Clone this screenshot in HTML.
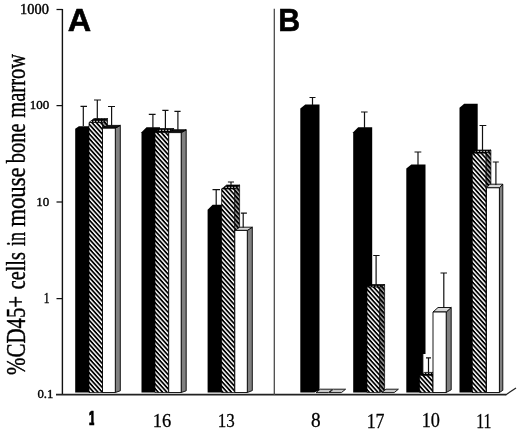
<!DOCTYPE html>
<html><head><meta charset="utf-8"><title>Figure</title>
<style>
html,body{margin:0;padding:0;background:#fff;}
body{width:520px;height:433px;overflow:hidden;}
svg{display:block;}
text{fill:#000;stroke:#000;stroke-width:0.4px;stroke-linejoin:round;}
.b{stroke-width:0.6px;}
.yl{stroke-width:0.45px;}
.xl{stroke-width:0.28px;}
.s{font-family:"Liberation Serif","DejaVu Serif",serif;}
.b{font-family:"Liberation Sans","DejaVu Sans",sans-serif;font-weight:bold;}
</style></head><body>
<svg width="520" height="433" viewBox="0 0 520 433">
<defs>
<pattern id="h" patternUnits="userSpaceOnUse" width="3.2" height="3.2" patternTransform="rotate(48)">
<rect width="3.2" height="3.2" fill="#fff"/><rect width="3.2" height="1.75" y="0" fill="#000"/></pattern>
<pattern id="hs" patternUnits="userSpaceOnUse" width="3.2" height="3.2" patternTransform="rotate(48)">
<rect width="3.2" height="3.2" fill="#aaa"/><rect width="3.2" height="1.9" y="0" fill="#000"/></pattern>
<pattern id="ht" patternUnits="userSpaceOnUse" width="3" height="3">
<rect width="3" height="3" fill="#000"/><rect width="1.2" height="1.2" x="0.5" y="0.8" fill="#fff"/></pattern>
<clipPath id="c1"><rect x="89.3" y="405" width="4.9" height="25"/></clipPath>
</defs>
<rect width="520" height="433" fill="#fff"/>

<path d="M62.4 9V395" stroke="#111" stroke-width="1.4" fill="none"/>
<path d="M56.5 9.5H62.5" stroke="#111" stroke-width="1.25" fill="none"/>
<path d="M56.5 105.6H62.5" stroke="#111" stroke-width="1.25" fill="none"/>
<path d="M56.5 202.0H62.5" stroke="#111" stroke-width="1.25" fill="none"/>
<path d="M56.5 298.6H62.5" stroke="#111" stroke-width="1.25" fill="none"/>
<path d="M56 394.6H506.2" stroke="#222" stroke-width="1.7" fill="none"/>
<path d="M505.6 394.9L516 388" stroke="#222" stroke-width="1.2" fill="none"/>
<path d="M274.3 8.8V395" stroke="#444" stroke-width="1.25" fill="none"/>
<text class="s" transform="translate(20.11,13.73) scale(1.0613,1)" font-size="13.53">1000</text>
<text class="s" transform="translate(29.73,109.14) scale(0.9817,1)" font-size="13.24">100</text>
<text class="s" transform="translate(36.23,206.14) scale(0.9814,1)" font-size="13.24">10</text>
<text class="s" transform="translate(43.67,302.60) scale(0.8381,1)" font-size="13.64">1</text>
<text class="s" transform="translate(37.39,398.34) scale(0.9658,1)" font-size="13.24">0.1</text>
<g clip-path="url(#c1)"><text class="b" transform="translate(87.9,425.2) scale(0.7,1)" font-size="20.6">1</text></g>
<text class="s xl" transform="translate(152.83,427.01) scale(0.9542,1)" font-size="19.41">16</text>
<text class="s xl" transform="translate(217.87,427.20) scale(0.8635,1)" font-size="19.70">13</text>
<text class="s xl" transform="translate(310.93,427.10) scale(0.9571,1)" font-size="20.15">8</text>
<text class="s xl" transform="translate(366.69,427.60) scale(0.8787,1)" font-size="20.30">17</text>
<text class="s xl" transform="translate(421.66,427.20) scale(0.9138,1)" font-size="20.00">10</text>
<text class="s xl" transform="translate(476.28,427.60) scale(0.7669,1)" font-size="20.61">11</text>
<text class="b" transform="translate(67.73,30.82) scale(1.0114,1)" font-size="32.06">A</text>
<text class="b" transform="translate(278.28,31.10) scale(0.9512,1)" font-size="31.88">B</text>
<g class="s yl" transform="translate(24.9,0) rotate(-90)" font-size="27.0">
<text transform="translate(-374.93,0) scale(0.7737,1)">%CD45+</text>
<text transform="translate(-289.31,0) scale(0.7513,1)">cells</text>
<text transform="translate(-246.06,0) scale(0.6607,1)">in</text>
<text transform="translate(-226.76,0) scale(0.8435,1)">mouse</text>
<text transform="translate(-163.20,0) scale(0.7563,1)">bone</text>
<text transform="translate(-117.71,0) scale(0.7599,1)">marrow</text>
</g>
<polygon points="75.20,392.50 75.20,128.80 78.90,126.20 92.70,126.20 92.70,390.94 89.00,392.50" fill="#000"/>
<path d="M83.30 106.40V126.00M80.50 106.40H87.00" stroke="#111" stroke-width="1.2" fill="none"/>
<polygon points="102.50,122.50 107.50,118.50 107.50,390.10 102.50,392.50" fill="url(#hs)" stroke="#000" stroke-width="0.7" stroke-linejoin="miter"/>
<polygon points="89.00,122.50 94.00,118.50 107.50,118.50 102.50,122.50" fill="url(#ht)" stroke="#000" stroke-width="0.7" stroke-linejoin="miter"/>
<polygon points="89.00,122.50 102.50,122.50 102.50,392.50 89.00,392.50" fill="url(#h)" stroke="#000" stroke-width="0.7" stroke-linejoin="miter"/>
<path d="M97.30 100.00V119.00M94.00 100.00H101.00" stroke="#111" stroke-width="1.2" fill="none"/>
<polygon points="115.30,128.20 120.30,125.40 120.30,390.82 115.30,392.50" fill="#808080" stroke="#000" stroke-width="0.9" stroke-linejoin="miter"/>
<polygon points="102.50,128.20 107.50,125.40 120.30,125.40 115.30,128.20" fill="#111" stroke="#000" stroke-width="0.9" stroke-linejoin="miter"/>
<polygon points="102.50,128.20 115.30,128.20 115.30,392.50 102.50,392.50" fill="#fff" stroke="#000" stroke-width="0.9" stroke-linejoin="miter"/>
<path d="M111.60 106.50V126.00M108.00 106.50H115.00" stroke="#111" stroke-width="1.2" fill="none"/>
<polygon points="141.50,392.50 141.50,132.30 146.50,127.30 160.00,127.30 160.00,389.50 155.00,392.50" fill="#000"/>
<path d="M152.90 114.40V128.00M148.80 114.40H155.60" stroke="#111" stroke-width="1.2" fill="none"/>
<polygon points="168.70,132.50 173.70,128.50 173.70,390.10 168.70,392.50" fill="url(#hs)" stroke="#000" stroke-width="0.7" stroke-linejoin="miter"/>
<polygon points="155.00,132.50 160.00,128.50 173.70,128.50 168.70,132.50" fill="url(#ht)" stroke="#000" stroke-width="0.7" stroke-linejoin="miter"/>
<polygon points="155.00,132.50 168.70,132.50 168.70,392.50 155.00,392.50" fill="url(#h)" stroke="#000" stroke-width="0.7" stroke-linejoin="miter"/>
<path d="M165.40 110.30V129.00M162.30 110.30H168.50" stroke="#111" stroke-width="1.2" fill="none"/>
<polygon points="181.20,132.60 186.20,129.80 186.20,390.82 181.20,392.50" fill="#808080" stroke="#000" stroke-width="0.9" stroke-linejoin="miter"/>
<polygon points="168.70,132.60 173.70,129.80 186.20,129.80 181.20,132.60" fill="#111" stroke="#000" stroke-width="0.9" stroke-linejoin="miter"/>
<polygon points="168.70,132.60 181.20,132.60 181.20,392.50 168.70,392.50" fill="#fff" stroke="#000" stroke-width="0.9" stroke-linejoin="miter"/>
<path d="M177.90 111.30V130.00M174.40 111.30H180.60" stroke="#111" stroke-width="1.2" fill="none"/>
<polygon points="207.60,392.50 207.60,209.70 212.60,204.70 226.50,204.70 226.50,389.50 221.50,392.50" fill="#000"/>
<path d="M216.20 189.60V205.00M212.50 189.60H220.00" stroke="#111" stroke-width="1.2" fill="none"/>
<polygon points="234.60,189.00 239.60,185.00 239.60,390.10 234.60,392.50" fill="url(#hs)" stroke="#000" stroke-width="0.7" stroke-linejoin="miter"/>
<polygon points="221.60,189.00 226.60,185.00 239.60,185.00 234.60,189.00" fill="url(#ht)" stroke="#000" stroke-width="0.7" stroke-linejoin="miter"/>
<polygon points="221.60,189.00 234.60,189.00 234.60,392.50 221.60,392.50" fill="url(#h)" stroke="#000" stroke-width="0.7" stroke-linejoin="miter"/>
<path d="M231.00 182.00V185.00M227.90 182.00H234.00" stroke="#111" stroke-width="1.2" fill="none"/>
<polygon points="247.30,230.40 252.30,227.20 252.30,390.58 247.30,392.50" fill="#808080" stroke="#000" stroke-width="0.9" stroke-linejoin="miter"/>
<polygon points="234.80,230.40 239.80,227.20 252.30,227.20 247.30,230.40" fill="#d8d8d8" stroke="#000" stroke-width="0.9" stroke-linejoin="miter"/>
<polygon points="234.80,230.40 247.30,230.40 247.30,392.50 234.80,392.50" fill="#fff" stroke="#000" stroke-width="0.9" stroke-linejoin="miter"/>
<path d="M243.20 213.10V227.50M240.90 213.10H246.90" stroke="#111" stroke-width="1.2" fill="none"/>
<polygon points="300.30,392.50 300.30,108.50 305.30,104.50 319.50,104.50 319.50,390.10 314.50,392.50" fill="#000"/>
<path d="M312.50 97.50V105.00M309.50 97.50H315.50" stroke="#111" stroke-width="1.2" fill="none"/>
<polygon points="316.00,392.60 320.20,389.20 332.60,389.20 328.40,392.60" fill="#c8c8c8" stroke="#1a1a1a" stroke-width="1.0" stroke-linejoin="miter"/>
<polygon points="329.20,392.60 333.40,389.20 345.60,389.20 341.40,392.60" fill="#c8c8c8" stroke="#1a1a1a" stroke-width="1.0" stroke-linejoin="miter"/>
<polygon points="353.20,392.50 353.20,132.30 358.20,127.30 372.20,127.30 372.20,389.50 367.20,392.50" fill="#000"/>
<path d="M364.50 112.00V128.00M361.00 112.00H367.60" stroke="#111" stroke-width="1.2" fill="none"/>
<polygon points="379.60,287.10 384.60,284.50 384.60,390.94 379.60,392.50" fill="url(#hs)" stroke="#000" stroke-width="0.7" stroke-linejoin="miter"/>
<polygon points="367.00,287.10 372.00,284.50 384.60,284.50 379.60,287.10" fill="url(#ht)" stroke="#000" stroke-width="0.7" stroke-linejoin="miter"/>
<polygon points="367.00,287.10 379.60,287.10 379.60,392.50 367.00,392.50" fill="url(#h)" stroke="#000" stroke-width="0.7" stroke-linejoin="miter"/>
<path d="M376.10 255.50V285.00M373.20 255.50H379.60" stroke="#111" stroke-width="1.2" fill="none"/>
<polygon points="381.80,392.60 386.00,389.20 398.40,389.20 394.20,392.60" fill="#c8c8c8" stroke="#1a1a1a" stroke-width="1.0" stroke-linejoin="miter"/>
<polygon points="406.30,392.50 406.30,168.50 411.30,164.50 425.50,164.50 425.50,390.10 420.50,392.50" fill="#000"/>
<path d="M418.00 152.00V165.00M414.50 152.00H421.30" stroke="#111" stroke-width="1.2" fill="none"/>
<rect x="423" y="354" width="10" height="19" fill="#fff"/><path d="M423.3 354V373" stroke="#666" stroke-width="0.7"/>
<polygon points="432.80,375.40 437.80,372.40 437.80,390.70 432.80,392.50" fill="url(#hs)" stroke="#000" stroke-width="0.7" stroke-linejoin="miter"/>
<polygon points="419.60,375.40 424.60,372.40 437.80,372.40 432.80,375.40" fill="url(#ht)" stroke="#000" stroke-width="0.7" stroke-linejoin="miter"/>
<polygon points="419.60,375.40 432.80,375.40 432.80,392.50 419.60,392.50" fill="url(#h)" stroke="#000" stroke-width="0.7" stroke-linejoin="miter"/>
<path d="M428.50 357.80V372.50M426.00 357.80H431.00" stroke="#111" stroke-width="1.2" fill="none"/>
<polygon points="446.20,312.00 451.20,307.50 451.20,389.80 446.20,392.50" fill="#808080" stroke="#000" stroke-width="0.9" stroke-linejoin="miter"/>
<polygon points="433.00,312.00 438.00,307.50 451.20,307.50 446.20,312.00" fill="#d8d8d8" stroke="#000" stroke-width="0.9" stroke-linejoin="miter"/>
<polygon points="433.00,312.00 446.20,312.00 446.20,392.50 433.00,392.50" fill="#fff" stroke="#000" stroke-width="0.9" stroke-linejoin="miter"/>
<path d="M443.80 273.00V308.00M440.50 273.00H447.00" stroke="#111" stroke-width="1.2" fill="none"/>
<polygon points="459.50,392.50 459.50,107.80 464.20,103.80 477.70,103.80 477.70,390.10 473.00,392.50" fill="#000"/>
<polygon points="485.90,153.20 490.90,150.00 490.90,390.58 485.90,392.50" fill="url(#hs)" stroke="#000" stroke-width="0.7" stroke-linejoin="miter"/>
<polygon points="472.30,153.20 477.30,150.00 490.90,150.00 485.90,153.20" fill="url(#ht)" stroke="#000" stroke-width="0.7" stroke-linejoin="miter"/>
<polygon points="472.30,153.20 485.90,153.20 485.90,392.50 472.30,392.50" fill="url(#h)" stroke="#000" stroke-width="0.7" stroke-linejoin="miter"/>
<path d="M482.50 125.50V152.00M479.50 125.50H486.30" stroke="#111" stroke-width="1.2" fill="none"/>
<polygon points="499.40,187.80 502.80,184.20 502.80,390.34 499.40,392.50" fill="#808080" stroke="#000" stroke-width="0.9" stroke-linejoin="miter"/>
<polygon points="486.50,187.80 489.90,184.20 502.80,184.20 499.40,187.80" fill="#d8d8d8" stroke="#000" stroke-width="0.9" stroke-linejoin="miter"/>
<polygon points="486.50,187.80 499.40,187.80 499.40,392.50 486.50,392.50" fill="#fff" stroke="#000" stroke-width="0.9" stroke-linejoin="miter"/>
<path d="M495.90 162.00V185.00M492.80 162.00H498.80" stroke="#111" stroke-width="1.2" fill="none"/>
</svg></body></html>
